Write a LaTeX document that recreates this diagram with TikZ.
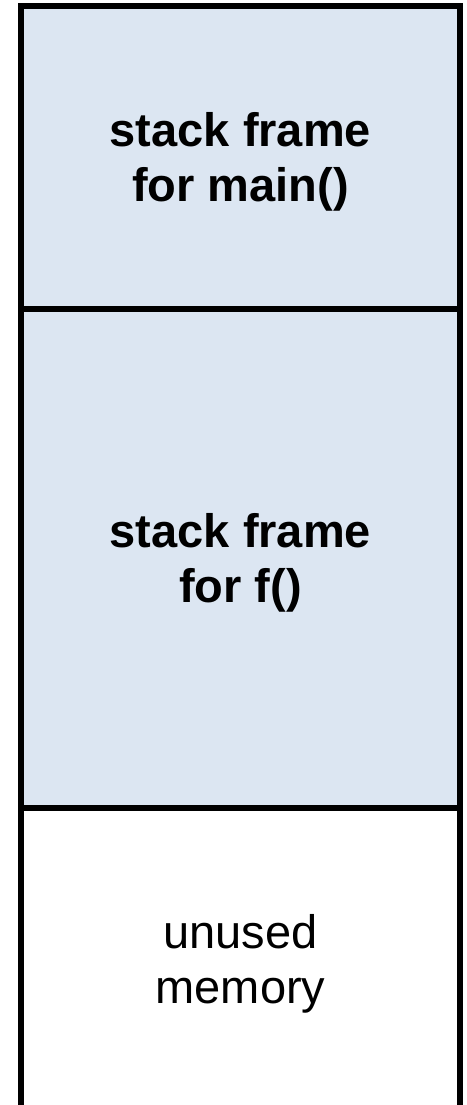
\documentclass[tikz,border=0pt]{standalone}
\usepackage{fontspec}
\setmainfont{Liberation Sans}
\definecolor{framefill}{HTML}{DCE6F2}
\begin{document}
\begin{tikzpicture}[x=1pt,y=-1pt,
  edge/.style={line width=5.5pt,draw=black,line join=miter},
  label/.style={align=center,inner sep=0pt,font=\fontsize{47}{55}\selectfont},
  boldlabel/.style={label,font=\fontsize{47}{55}\selectfont\bfseries}]
\useasboundingbox (0,0) rectangle (466,1105);
\clip (0,0) rectangle (466,1105);
% fills
\fill[framefill] (21,6) rectangle (460,309);
\fill[framefill] (21,309) rectangle (460,808);
% corners of the stack
\coordinate (tl) at (21,6);
\coordinate (tr) at (460,6);
\coordinate (bl) at (21,1120);
\coordinate (br) at (460,1120);
\coordinate (d1l) at (21,309);
\coordinate (d1r) at (460,309);
\coordinate (d2l) at (21,808);
\coordinate (d2r) at (460,808);
% outline
\draw[edge] (bl) -- (tl) -- (tr) -- (br);
\draw[edge] (d1l) -- (d1r);
\draw[edge] (d2l) -- (d2r);
% labels
\node[boldlabel] (main) at (240.5,161.5) {stack frame\\for main()};
\node[boldlabel] (f) at (240.5,562.5) {stack frame\\for f()};
\node[label] (unused) at (240.5,964) {unused\\memory};
\end{tikzpicture}
\end{document}
